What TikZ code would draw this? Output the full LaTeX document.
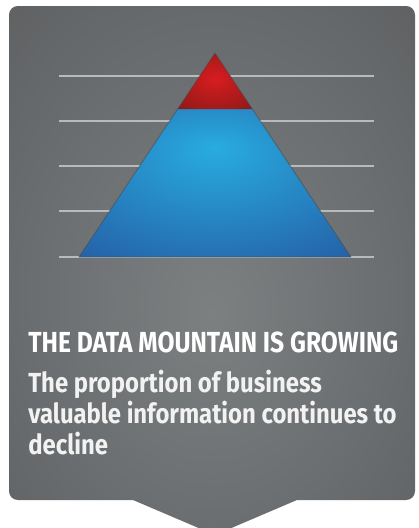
\documentclass[tikz,border=0pt]{standalone}
\usepackage{fontspec}
\setmainfont{Fira Sans}
\usepackage{graphicx}
\usetikzlibrary{shapes,positioning}

\definecolor{cardlight}{RGB}{124,128,129}
\definecolor{cardmid}{RGB}{107,110,112}
\definecolor{carddark}{RGB}{84,85,87}
\definecolor{guidegray}{RGB}{184,187,189}
\definecolor{bluelight}{RGB}{40,172,224}
\definecolor{bluedark}{RGB}{36,84,158}
\definecolor{redlight}{RGB}{216,28,32}
\definecolor{reddark}{RGB}{132,26,22}

\pgfdeclareradialshading{cardglow}{\pgfpoint{0bp}{-4bp}}{color(0bp)=(cardlight); color(22bp)=(cardmid); color(50bp)=(carddark)}
\pgfdeclareradialshading{bluestone}{\pgfpoint{0bp}{12bp}}{color(0bp)=(bluelight); color(45bp)=(bluedark); color(60bp)=(bluedark)}
\pgfdeclareradialshading{redtip}{\pgfpoint{0bp}{2bp}}{color(0bp)=(redlight); color(40bp)=(reddark); color(55bp)=(reddark)}

\newcommand\narrowtxt[2][0.85]{\scalebox{#1}[1]{#2}}

\begin{document}
\begin{tikzpicture}
  [x=0.02cm,y=-0.02cm,
   guideL/.style={draw=guidegray,line width=0.8pt},
   edgeL/.style={draw=black!70,line width=0.5pt,line join=round,opacity=0.6},
   titleT/.style={anchor=base west,inner sep=0pt,text=white,font=\fontsize{16.5}{18}\selectfont\bfseries},
   bodyT/.style={anchor=base west,inner sep=0pt,text=white!95!black,align=left,font=\fontsize{15.7}{17.4}\selectfont\bfseries}]

  \useasboundingbox (0,0) rectangle (419,528);

  % card with the tab below
  \shade[shading=cardglow]
    [rounded corners=5pt] (9,6) rectangle (415,500)
    [sharp corners] (297,500) -- (215,535) -- (133,500) -- cycle;

  % guide lines
  \draw[guideL] (59,76)  -- (374,76);
  \draw[guideL] (59,121) -- (374,121);
  \draw[guideL] (59,166) -- (374,166);
  \draw[guideL] (59,211) -- (374,211);
  \draw[guideL] (59,257) -- (374,257);

  \coordinate (apex)  at (215,53);
  \coordinate (baseL) at (79,257);
  \coordinate (baseR) at (351,257);
  \coordinate (cutL)  at (177.7,109);
  \coordinate (cutR)  at (252.3,109);

  \shade[shading=bluestone] (cutL) -- (cutR) -- (baseR) -- (baseL) -- cycle;
  \shade[shading=redtip] (apex) -- (cutR) -- (cutL) -- cycle;
  \draw[edgeL] (apex) -- (baseR) -- (baseL) -- cycle;

  % texts (base of the body node is its last line)
  \node[titleT] (title) at (28,352) {\narrowtxt{THE DATA MOUNTAIN IS GROWING}};
  \node[bodyT]  (body)  at (28,454)
    {\narrowtxt[0.865]{The proportion of business}\\
     \narrowtxt[0.865]{valuable information continues to}\\
     \narrowtxt[0.865]{decline}};

\end{tikzpicture}
\end{document}
